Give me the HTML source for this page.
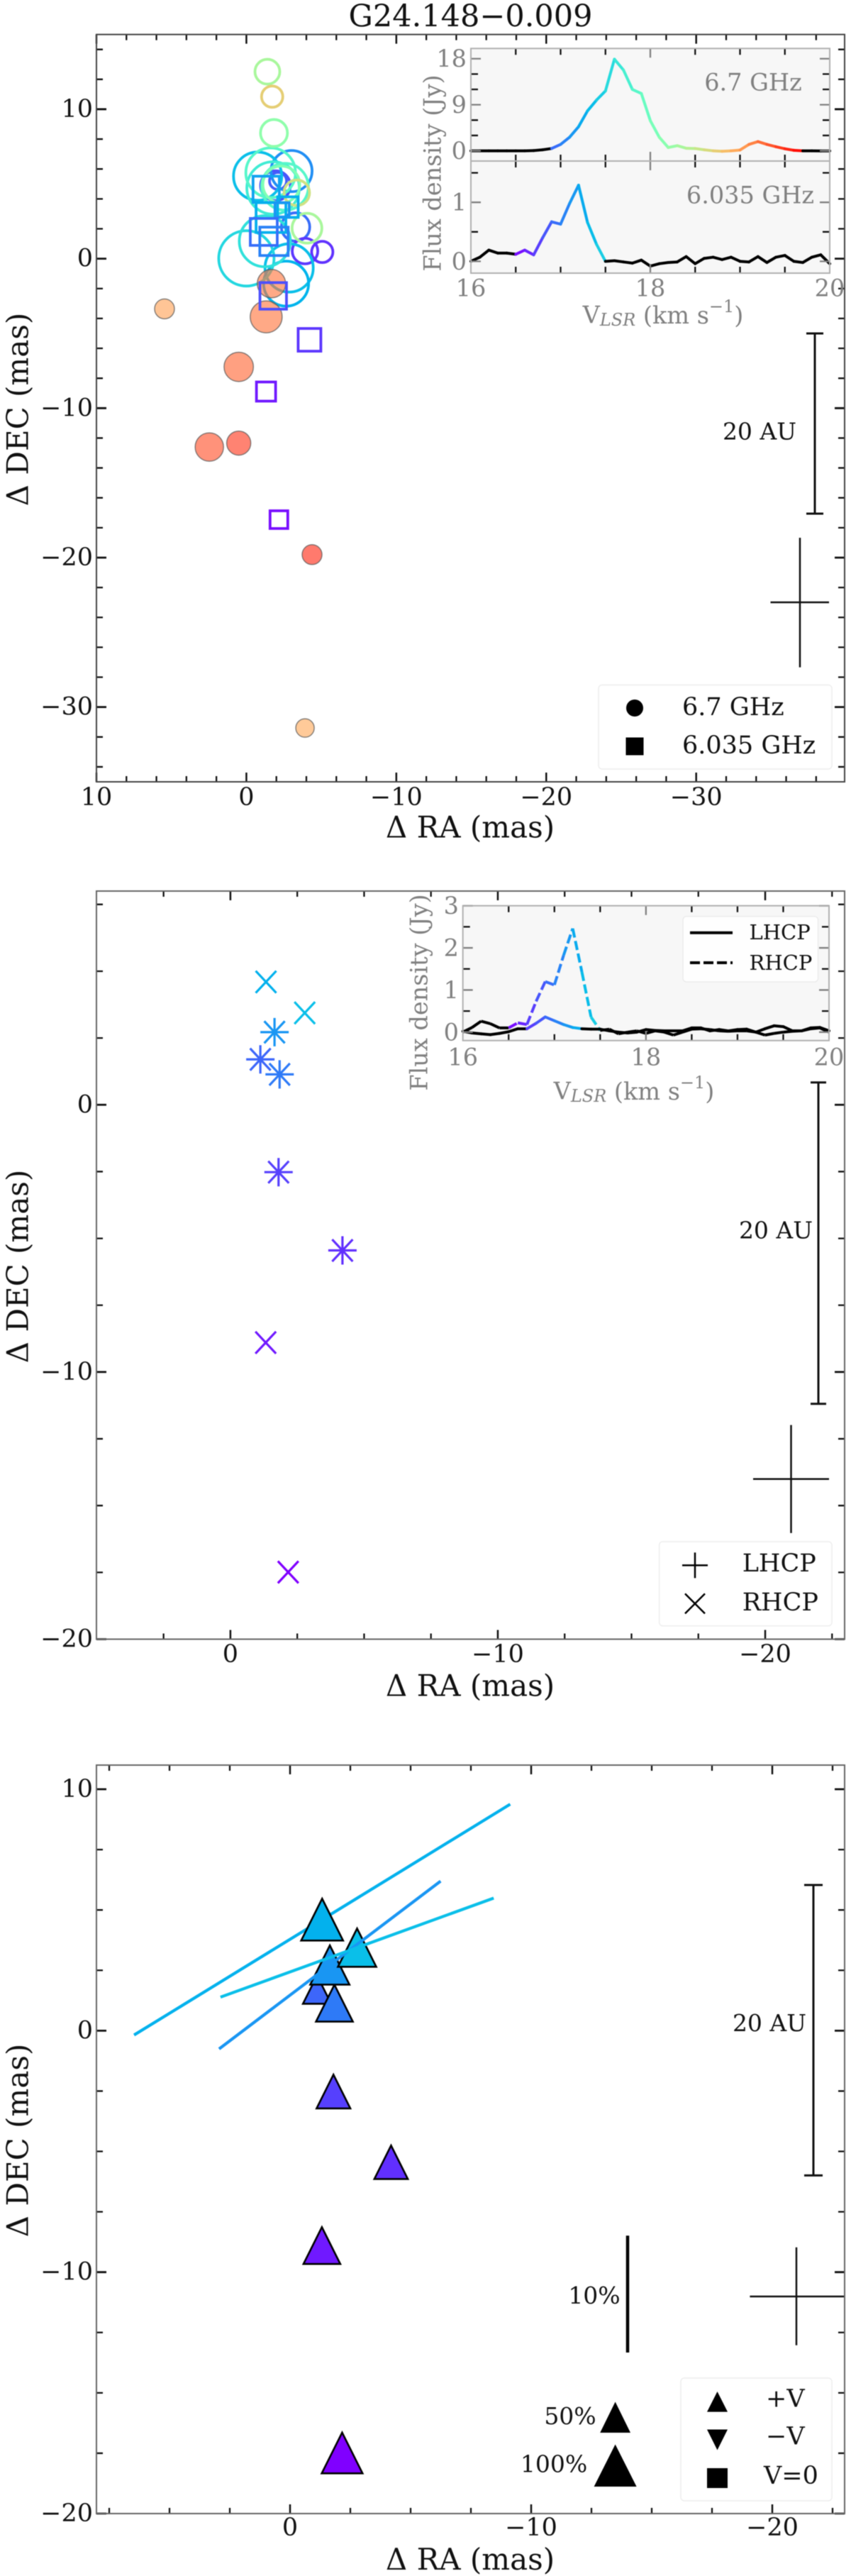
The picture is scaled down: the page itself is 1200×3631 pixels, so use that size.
<!DOCTYPE html>
<html lang="en">
<head>
<meta charset="utf-8">
<title>G24.148−0.009 maser maps</title>
<style>
html,body{margin:0;padding:0;background:#fff;}
svg{display:block;filter:blur(0.6px);}
text{font-family:"DejaVu Serif","Liberation Serif",serif;fill:#111;}
.gray{fill:#808080;}
.tl{font-size:35px;}
.al{font-size:42px;}
.il{font-size:33.5px;}
</style>
</head>
<body>
<svg id="fig" xmlns="http://www.w3.org/2000/svg" width="1200" height="3631" viewBox="0 0 1200 3631">
<defs><clipPath id="figClip"><rect x="0" y="0" width="1191" height="3631"/></clipPath></defs>
<rect x="0" y="0" width="1200" height="3631" fill="#fff"/>

<text x="663.5" y="23" font-size="43" text-anchor="middle" dominant-baseline="central">G24.148−0.009</text>

<!-- PANEL 1 -->
<g id="p1">
  <g id="p1marks"></g>
  <g id="p1axes"></g>
  <text class="al" x="663" y="1166" text-anchor="middle" dominant-baseline="central">Δ RA (mas)</text>
  <text class="al" transform="translate(25 577) rotate(-90)" text-anchor="middle" dominant-baseline="central">Δ DEC (mas)</text>
  <g stroke="#111" stroke-width="3" fill="none">
    <path d="M1149 470V724M1137 470H1161M1137 724H1161"/>
  </g>
  <text class="tl" x="1071" y="608" text-anchor="middle" dominant-baseline="central" style="font-size:33px">20 AU</text>
  <path d="M1128 758V940.6M1086.5 849H1169" stroke="#111" stroke-width="2.5" fill="none"/>
  <g>
    <rect x="844" y="965.5" width="329" height="118.5" rx="5" fill="#fff" stroke="#eeeeee" stroke-width="1.5"/>
    <circle cx="895" cy="998" r="12" fill="#000"/>
    <rect x="882.5" y="1039.5" width="25" height="25" fill="#000"/>
    <text x="962" y="997" font-size="35" dominant-baseline="central">6.7 GHz</text>
    <text x="962" y="1051" font-size="35" dominant-baseline="central">6.035 GHz</text>
  </g>
  <g>
    <rect x="664" y="68.3" width="506" height="316.7" fill="#f7f7f7"/>
    <g id="i1lines"></g>
    <g id="i1axes"></g>
    <text class="il gray" x="1062" y="116" text-anchor="middle" dominant-baseline="central">6.7 GHz</text>
    <text class="il gray" x="1058" y="275" text-anchor="middle" dominant-baseline="central">6.035 GHz</text>
    <text class="il gray" transform="translate(610 244) rotate(-90)" text-anchor="middle" dominant-baseline="central">Flux density (Jy)</text>
    <text class="il gray" x="935" y="444" text-anchor="middle" dominant-baseline="central">V<tspan font-size="24" font-style="italic" dy="7">LSR</tspan><tspan dy="-7"> (km s</tspan><tspan font-size="24" dy="-12">−1</tspan><tspan dy="12">)</tspan></text>
  </g>
</g>

<!-- PANEL 2 -->
<g id="p2">
  <g id="p2marks"></g>
  <g id="p2axes"></g>
  <text class="al" x="663" y="2376" text-anchor="middle" dominant-baseline="central">Δ RA (mas)</text>
  <text class="al" transform="translate(25 1785) rotate(-90)" text-anchor="middle" dominant-baseline="central">Δ DEC (mas)</text>
  <path d="M1154 1525.7V1978.7M1143 1525.7H1165M1143 1978.7H1165" stroke="#111" stroke-width="3" fill="none"/>
  <text x="1094" y="1734" font-size="33" text-anchor="middle" dominant-baseline="central">20 AU</text>
  <path d="M1115.5 2008.6V2160.9M1062 2084.7H1169" stroke="#111" stroke-width="2.5" fill="none"/>
  <g>
    <rect x="929.6" y="2173" width="243.4" height="118.8" rx="5" fill="#fff" stroke="#eeeeee" stroke-width="1.5"/>
    <path d="M962 2206.4H998M980 2188.4V2224.4" stroke="#000" stroke-width="2.5" fill="none"/>
    <path d="M966 2246.4L994 2274.4M994 2246.4L966 2274.4" stroke="#000" stroke-width="2.5" fill="none"/>
    <text x="1046.7" y="2204" font-size="35" dominant-baseline="central">LHCP</text>
    <text x="1046.7" y="2259" font-size="35" dominant-baseline="central">RHCP</text>
  </g>
  <g>
    <rect x="652.7" y="1276.7" width="516.3" height="190" fill="#f7f7f7"/>
    <g id="i2lines"></g>
    <g id="i2axes"></g>
    <rect x="963" y="1291.7" width="190.6" height="92.3" rx="5" fill="#fff" fill-opacity="0.8" stroke="#ececec" stroke-width="1.5"/>
    <path d="M973 1314.7H1033" stroke="#000" stroke-width="4"/>
    <path d="M973 1357H1033" stroke="#000" stroke-width="4" stroke-dasharray="14 5"/>
    <text x="1056.5" y="1314" font-size="29" dominant-baseline="central">LHCP</text>
    <text x="1056.5" y="1357" font-size="29" dominant-baseline="central">RHCP</text>
    <text class="il gray" transform="translate(591 1399) rotate(-90)" text-anchor="middle" dominant-baseline="central">Flux density (Jy)</text>
    <text class="il gray" x="894" y="1538" text-anchor="middle" dominant-baseline="central">V<tspan font-size="24" font-style="italic" dy="7">LSR</tspan><tspan dy="-7"> (km s</tspan><tspan font-size="24" dy="-12">−1</tspan><tspan dy="12">)</tspan></text>
  </g>
</g>

<!-- PANEL 3 -->
<g id="p3">
  <g id="p3marks"></g>
  <g id="p3axes"></g>
  <text class="al" x="663" y="3607.6" text-anchor="middle" dominant-baseline="central">Δ RA (mas)</text>
  <text class="al" transform="translate(25 3017) rotate(-90)" text-anchor="middle" dominant-baseline="central">Δ DEC (mas)</text>
  <path d="M1147 2657V3066.4M1134 2657H1160M1134 3066.4H1160" stroke="#111" stroke-width="3" fill="none"/>
  <text x="1085" y="2851.6" font-size="33" text-anchor="middle" dominant-baseline="central">20 AU</text>
  <path d="M1123 3167.8V3305.8M1057.4 3237H1190" stroke="#111" stroke-width="2.5" fill="none"/>
  <path d="M885 3151.3V3316" stroke="#000" stroke-width="4.5" fill="none"/>
  <text x="838" y="3235.4" font-size="33" text-anchor="middle" dominant-baseline="central">10%</text>
  <polygon points="867.6,3385.5 889,3429 846.2,3429" fill="#000"/>
  <polygon points="867.6,3445.5 897.6,3505 837.6,3505" fill="#000"/>
  <text x="804" y="3405.6" font-size="33" text-anchor="middle" dominant-baseline="central">50%</text>
  <text x="781" y="3472.8" font-size="33" text-anchor="middle" dominant-baseline="central">100%</text>
  <g>
    <rect x="960" y="3352" width="213" height="173" rx="5" fill="#fff" stroke="#eeeeee" stroke-width="1.5"/>
    <polygon points="1011.5,3371 1026,3399.6 997,3399.6" fill="#000"/>
    <polygon points="1011.5,3453.5 1026,3424.5 997,3424.5" fill="#000"/>
    <rect x="997" y="3479" width="29" height="28" fill="#000"/>
    <text x="1080" y="3381.5" font-size="35" dominant-baseline="central">+V</text>
    <text x="1080" y="3434.6" font-size="35" dominant-baseline="central">−V</text>
    <text x="1077" y="3490" font-size="35" dominant-baseline="central">V=0</text>
  </g>
</g>
</svg>

<script>
// ---------- data ----------
// 6.7 GHz outline spots (blue channels first, greener channels painted over them)
const openRa   = [-1.94,-2.11,-3.28,-3.91,-5.06,-3.01,-0.75,-2.85,-2.65,0.00,-1.23,-1.78,-1.62,-2.57,-2.33,-1.40,-1.84,-4.04,-3.36,-1.72];
const openDec  = [4.88,5.20,2.12,0.51,0.45,5.86,5.52,-0.62,-1.67,0.02,1.17,4.73,5.75,4.81,4.96,12.51,8.41,2.04,4.41,10.84];
const openVel  = [16.82,16.88,16.95,16.72,16.70,17.10,17.36,17.36,17.30,17.52,17.60,17.70,17.84,17.84,18.10,18.36,18.20,18.36,18.60,18.74];
const openFlux = [4.41,1.44,4.00,3.24,2.25,8.41,11.56,11.56,10.05,15.21,12.96,13.69,12.25,10.89,6.76,3.06,3.61,4.41,3.24,2.25];
// 6.7 GHz filled (red-shifted) spots
const fillRa   = [-1.67,-1.32,5.46,0.51,2.47,0.51,-4.38,-3.91];
const fillDec  = [-1.67,-3.89,-3.36,-7.24,-12.60,-12.34,-19.80,-31.40];
const fillVel  = [19.22,19.22,19.00,19.28,19.38,19.48,19.54,18.96];
const fillFlux = [4.00,5.06,1.96,4.28,4.00,2.89,1.96,1.69];
// 6.035 GHz spots
const sqRa   = [-1.32,-1.64,-2.77,-2.38,-1.16,-1.84,-1.79,-4.21,-1.31,-2.17];
const sqDec  = [4.64,2.75,3.45,3.27,1.79,1.16,-2.49,-5.43,-8.89,-17.46];
const sqVel  = [17.20,17.27,17.27,17.14,16.95,17.04,16.82,16.72,16.60,16.55];
const sqFlux = [3.42,4.41,2.10,1.00,3.61,4.00,3.50,2.56,1.82,1.56];
// polarised 6.035 GHz sites (panels 2 and 3)
const polRa    = [-1.33,-2.78,-1.65,-1.12,-1.84,-1.80,-4.19,-1.32,-2.16];
const polDec   = [4.60,3.44,2.72,1.70,1.14,-2.52,-5.45,-8.90,-17.49];
const polVel   = [17.28,17.36,17.14,16.92,17.01,16.76,16.69,16.60,16.50];
const polLhcp  = [0,0,1,1,1,1,1,0,0];
const polVPct  = [97,81,85,44,75,63,62,75,92];
const polLinPct = [37.8,24.9,23.8,0,0,0,0,0,0];
const polEvpa   = [-58.5,-70.1,-52.9,0,0,0,0,0,0];
const triangleOrder = [3,4,2,0,1,5,6,7,8];
// spectra
const specVel  = [16.0,16.1,16.2,16.3,16.4,16.5,16.6,16.7,16.8,16.9,17.0,17.1,17.2,17.3,17.4,17.5,17.6,17.7,17.8,17.9,18.0,18.1,18.2,18.3,18.4,18.5,18.6,18.7,18.8,18.9,19.0,19.1,19.2,19.3,19.4,19.5,19.6,19.7,19.8,19.9,20.0];
const spec67   = [0,0,0,0,0,0,0,0.05,0.2,0.45,1.25,2.65,4.7,7.8,9.9,11.7,17.9,15.8,12,11.2,5.9,2.65,0.65,1.0,0.5,0.45,0.2,0,-0.1,0,0.15,1.25,1.8,1.25,0.8,0.4,0.1,0,0,-0.02,-0.02];
const spec6035 = [0,0.07,0.19,0.14,0.14,0.12,0.19,0.11,0.4,0.67,0.63,0.98,1.29,0.66,0.29,0,0.01,-0.01,-0.03,0.02,-0.08,-0.04,-0.02,-0.01,0.08,-0.04,0.05,0.07,0.03,0.07,0,-0.01,0.08,-0.02,0.07,0.1,0,-0.02,0.07,0.11,-0.04];
const specRhcp = [0,0.11,0.26,0.2,0.1,0.1,0.22,0.18,0.73,1.2,1.12,1.82,2.46,1.43,0.36,0.04,0.07,-0.04,0,0.03,-0.03,0.03,0,-0.07,0,0.07,0.08,0.06,0.03,0.02,0.03,0.03,0,-0.07,-0.03,0,0.02,0.03,0.08,0.1,0];
const specLhcp = [0.02,-0.02,-0.04,-0.06,-0.03,0.01,0.08,0.08,0.21,0.36,0.27,0.18,0.11,0.08,0.07,0.07,0.03,0,-0.02,0,0.06,0.04,0.03,0.03,0.03,0.1,0.1,0.03,0.06,0.03,0.06,0.07,0,0.08,0.15,0.13,0.03,0.03,0.1,0.11,0.03];
// tick labels
const p1XLabels = [10,0,-10,-20,-30];
const p1YLabels = [10,0,-10,-20,-30];
const p2XLabels = [0,-10,-20];
const p2YLabels = [0,-10,-20];
const p3XLabels = [0,-10,-20];
const p3YLabels = [10,0,-10,-20];
const i1TopYLabels = [0,9,18];
const i1BotYLabels = [0,1];
const i2YLabels = [0,1,2,3];
const insetXLabels = [16,18,20];

// ---------- helpers ----------
const NS = 'http://www.w3.org/2000/svg';
function mk(parent, tag, attrs) {
  const el = document.createElementNS(NS, tag);
  for (const k in attrs) el.setAttribute(k, attrs[k]);
  parent.appendChild(el);
  return el;
}
function linear(d0, d1, r0, r1) { return v => r0 + (v - d0) * (r1 - r0) / (d1 - d0); }
function fmt(v) { return v < 0 ? '\u2212' + Math.abs(v) : String(v); }
const V_MIN = 16.5, V_MAX = 19.7;
function rainbow(v) {
  const x = Math.max(0, Math.min(1, (v - V_MIN) / (V_MAX - V_MIN)));
  const r = Math.min(1, Math.abs(2 * x - 0.5));
  const g = Math.sin(Math.PI * x);
  const b = Math.cos(Math.PI * x / 2);
  return 'rgb(' + Math.round(r * 255) + ',' + Math.round(g * 255) + ',' + Math.round(b * 255) + ')';
}
function stepRange(from, to, step) {
  const out = [];
  for (let v = from; step > 0 ? v <= to + 1e-6 : v >= to - 1e-6; v += step) out.push(v);
  return out;
}

function drawFrame(g, cfg) {
  cfg.xMinor.forEach(v => {
    const a = mk(g, 'path', {d: 'M' + cfg.sx(v) + ' ' + cfg.top + 'v8M' + cfg.sx(v) + ' ' + cfg.bottom + 'v-8', stroke: '#111', 'stroke-width': 2.3, fill: 'none'});
    
    
  });
  cfg.xMajor.forEach(v => {
    const a = mk(g, 'path', {d: 'M' + cfg.sx(v) + ' ' + cfg.top + 'v13M' + cfg.sx(v) + ' ' + cfg.bottom + 'v-13', stroke: '#111', 'stroke-width': 2.5, fill: 'none'});
    
    
    const t = mk(g, 'text', {class: 'tl', x: cfg.sx(v), y: cfg.xLabelY, 'text-anchor': 'middle', 'dominant-baseline': 'central'});
    t.textContent = fmt(v);
    
    
  });
  cfg.yMinor.forEach(v => {
    const a = mk(g, 'path', {d: 'M' + cfg.left + ' ' + cfg.sy(v) + 'h9M' + cfg.right + ' ' + cfg.sy(v) + 'h-9', stroke: '#111', 'stroke-width': 2.3, fill: 'none'});
    
    
  });
  cfg.yMajor.forEach(v => {
    const a = mk(g, 'path', {d: 'M' + cfg.left + ' ' + cfg.sy(v) + 'h14M' + cfg.right + ' ' + cfg.sy(v) + 'h-14', stroke: '#111', 'stroke-width': 2.8, fill: 'none'});
    
    
    const t = mk(g, 'text', {class: 'tl', x: cfg.left - 5, y: cfg.sy(v), 'text-anchor': 'end', 'dominant-baseline': 'central'});
    t.textContent = fmt(v);
    
    
  });
  const f = mk(g, 'rect', {x: cfg.left, y: cfg.top, width: cfg.right - cfg.left, height: cfg.bottom - cfg.top, fill: 'none', stroke: cfg.frame, 'stroke-width': 2});
  
  
}

function drawInsetTicks(g, box, sx, sy, xMinor, xMajor, yMinor, yMajor) {
  xMinor.forEach(v => {
    const a = mk(g, 'path', {d: 'M' + sx(v) + ' ' + box.top + 'v9M' + sx(v) + ' ' + box.bottom + 'v-9', stroke: '#111', 'stroke-width': 2.3, fill: 'none'});
    
    
  });
  xMajor.forEach(v => {
    const a = mk(g, 'path', {d: 'M' + sx(v) + ' ' + box.top + 'v13M' + sx(v) + ' ' + box.bottom + 'v-13', stroke: '#808080', 'stroke-width': 2.3, fill: 'none'});
    
    
  });
  yMinor.forEach(v => {
    const a = mk(g, 'path', {d: 'M' + box.left + ' ' + sy(v) + 'h10M' + box.right + ' ' + sy(v) + 'h-10', stroke: '#111', 'stroke-width': 2.3, fill: 'none'});
    
    
  });
  yMajor.forEach(v => {
    const a = mk(g, 'path', {d: 'M' + box.left + ' ' + sy(v) + 'h14M' + box.right + ' ' + sy(v) + 'h-14', stroke: '#808080', 'stroke-width': 2.3, fill: 'none'});
    
    
  });
  const f = mk(g, 'rect', {x: box.left, y: box.top, width: box.right - box.left, height: box.bottom - box.top, fill: 'none', stroke: '#b0b0b0', 'stroke-width': 2});
  
  
}

function drawSpectrum(g, vel, flux, sx, sy, vFrom, vTo, dash, name) {
  for (let i = 0; i < vel.length - 1; i++) {
    const mid = (vel[i] + vel[i + 1]) / 2;
    const coloured = mid >= vFrom && mid <= vTo;
    const attrs = {x1: sx(vel[i]), y1: sy(flux[i]), x2: sx(vel[i + 1]), y2: sy(flux[i + 1]), stroke: coloured ? rainbow(mid) : '#000', 'stroke-width': 4, 'stroke-linecap': 'round'};
    if (dash) {
      attrs['stroke-dasharray'] = coloured ? dash : '40 1';
      attrs['stroke-linecap'] = 'butt';
    }
    const s = mk(g, 'line', attrs);
    
    
  }
}

function insetXLabelsDraw(g, sx, y) {
  insetXLabels.forEach(v => {
    const t = mk(g, 'text', {class: 'il gray', x: sx(v), y: y, 'text-anchor': 'middle', 'dominant-baseline': 'central', 'clip-path': 'url(#figClip)'});
    t.textContent = v;
    
    
  });
}
function insetYLabelsDraw(g, labels, sy, x) {
  labels.forEach(v => {
    const t = mk(g, 'text', {class: 'il gray', x: x, y: sy(v), 'text-anchor': 'end', 'dominant-baseline': 'central'});
    t.textContent = v;
    
    
  });
}

// ---------- Panel 1 ----------
const p1x = linear(10, -39.9, 136, 1191);
const p1y = linear(15, -35, 48.6, 1102);
const spotRadius = flux => 10 * Math.sqrt(flux);
const p1marks = document.getElementById('p1marks');
openRa.forEach((ra, i) => {
  const c = mk(p1marks, 'circle', {cx: p1x(ra), cy: p1y(openDec[i]), r: spotRadius(openFlux[i]), fill: 'none', stroke: rainbow(openVel[i]), 'stroke-width': 3.8});
  
  
});
fillRa.forEach((ra, i) => {
  const c = mk(p1marks, 'circle', {cx: p1x(ra), cy: p1y(fillDec[i]), r: spotRadius(fillFlux[i]), fill: rainbow(fillVel[i]), 'fill-opacity': 0.62, stroke: '#555', 'stroke-opacity': 0.7, 'stroke-width': 1.5});
  
  
});
sqRa.forEach((ra, i) => {
  const h = spotRadius(sqFlux[i]);
  const s = mk(p1marks, 'rect', {x: p1x(ra) - h, y: p1y(sqDec[i]) - h, width: 2 * h, height: 2 * h, fill: 'none', stroke: rainbow(sqVel[i]), 'stroke-width': 3.8});
  
  
});
drawFrame(document.getElementById('p1axes'), {
  left: 136, right: 1191, top: 48.6, bottom: 1102, sx: p1x, sy: p1y, frame: '#444', xLabelY: 1124,
  xMajor: p1XLabels, xMinor: stepRange(8, -38, -2).filter(v => v % 10 !== 0),
  yMajor: p1YLabels, yMinor: stepRange(14, -34, -2).filter(v => v % 10 !== 0)
});
// inset 1
const i1vx = linear(16, 20, 664, 1170);
const i1TopY = linear(20, -2, 68.3, 227);
const i1BotY = linear(1.7, -0.2, 227, 385);
const i1lines = document.getElementById('i1lines');
drawSpectrum(i1lines, specVel, spec67, i1vx, i1TopY, 16.9, 19.7, null, 'spectrum-6-7ghz');
drawSpectrum(i1lines, specVel, spec6035, i1vx, i1BotY, 16.55, 17.5, null, 'spectrum-6-035ghz');
const i1axes = document.getElementById('i1axes');
const insetXMinor = stepRange(16.5, 19.5, 0.5).filter(v => v !== 18);
drawInsetTicks(i1axes, {left: 664, right: 1170, top: 68.3, bottom: 227}, i1vx, i1TopY, insetXMinor, [18], [3, 6, 12, 15], [0, 9, 18]);
drawInsetTicks(i1axes, {left: 664, right: 1170, top: 227, bottom: 385}, i1vx, i1BotY, insetXMinor, [18], [0.5, 1.5], [0, 1]);
insetXLabelsDraw(i1axes, i1vx, 406);
insetYLabelsDraw(i1axes, i1TopYLabels, i1TopY, 658);
insetYLabelsDraw(i1axes, i1BotYLabels, i1BotY, 658);

// ---------- Panel 2 ----------
const p2x = linear(5.01, -22.97, 136, 1191);
const p2y = linear(8, -20, 1256, 2310.5);
const p2marks = document.getElementById('p2marks');
polRa.forEach((ra, i) => {
  const x = p2x(ra), y = p2y(polDec[i]);
  const col = rainbow(polVel[i]);
  const cross = mk(p2marks, 'path', {d: 'M' + (x - 14.5) + ' ' + (y - 15.5) + 'L' + (x + 14.5) + ' ' + (y + 15.5) + 'M' + (x + 14.5) + ' ' + (y - 15.5) + 'L' + (x - 14.5) + ' ' + (y + 15.5), stroke: col, 'stroke-width': 3.2, fill: 'none'});
  
  
  if (polLhcp[i]) {
    const plus = mk(p2marks, 'path', {d: 'M' + (x - 20) + ' ' + y + 'H' + (x + 20) + 'M' + x + ' ' + (y - 20) + 'V' + (y + 20), stroke: col, 'stroke-width': 3.2, fill: 'none'});
    
    
  }
});
drawFrame(document.getElementById('p2axes'), {
  left: 136, right: 1191, top: 1256, bottom: 2310.5, sx: p2x, sy: p2y, frame: '#666', xLabelY: 2332,
  xMajor: p2XLabels, xMinor: stepRange(2.5, -22.5, -2.5).filter(v => v % 10 !== 0),
  yMajor: p2YLabels, yMinor: stepRange(7.5, -17.5, -2.5).filter(v => v % 10 !== 0)
});
// inset 2
const i2vx = linear(16, 20, 652.7, 1169);
const i2y = linear(3, -0.2, 1276.7, 1466.7);
const i2lines = document.getElementById('i2lines');
drawSpectrum(i2lines, specVel, specRhcp, i2vx, i2y, 16.5, 17.5, '13 5', 'spectrum-rhcp');
drawSpectrum(i2lines, specVel, specLhcp, i2vx, i2y, 16.7, 17.3, null, 'spectrum-lhcp');
const i2axes = document.getElementById('i2axes');
drawInsetTicks(i2axes, {left: 652.7, right: 1169, top: 1276.7, bottom: 1466.7}, i2vx, i2y, insetXMinor, [18], [0.5, 1.5, 2.5], [0, 1, 2, 3]);
insetXLabelsDraw(i2axes, i2vx, 1490);
insetYLabelsDraw(i2axes, i2YLabels, i2y, 647);

// ---------- Panel 3 ----------
const p3x = linear(8.03, -23, 136, 1191);
const p3y = linear(11, -20, 2488, 3543);
const p3marks = document.getElementById('p3marks');
const MAS_PER_PERCENT = 0.484;
function drawVector(i) {
  const half = polLinPct[i] * MAS_PER_PERCENT / 2;
  const a = polEvpa[i] * Math.PI / 180;
  const dRa = Math.sin(a) * half, dDec = Math.cos(a) * half;
  const l = mk(p3marks, 'line', {x1: p3x(polRa[i] - dRa), y1: p3y(polDec[i] - dDec), x2: p3x(polRa[i] + dRa), y2: p3y(polDec[i] + dDec), stroke: rainbow(polVel[i]), 'stroke-width': 4.2});
  
  
}
drawVector(0);
triangleOrder.forEach(i => {
  const x = p3x(polRa[i]), y = p3y(polDec[i]);
  const h = 30 * Math.sqrt(polVPct[i] / 100);
  const t = mk(p3marks, 'polygon', {points: x + ',' + (y - h) + ' ' + (x + h) + ',' + (y + h) + ' ' + (x - h) + ',' + (y + h), fill: rainbow(polVel[i]), stroke: '#000', 'stroke-width': 2.6, 'stroke-linejoin': 'miter'});
  
  
});
drawVector(2);
drawVector(1);
drawFrame(document.getElementById('p3axes'), {
  left: 136, right: 1191, top: 2488, bottom: 3543, sx: p3x, sy: p3y, frame: '#666', xLabelY: 3563,
  xMajor: p3XLabels, xMinor: stepRange(7.5, -22.5, -2.5).filter(v => v % 10 !== 0),
  yMajor: p3YLabels, yMinor: stepRange(7.5, -17.5, -2.5).filter(v => v % 10 !== 0)
});
</script>
</body>
</html>
